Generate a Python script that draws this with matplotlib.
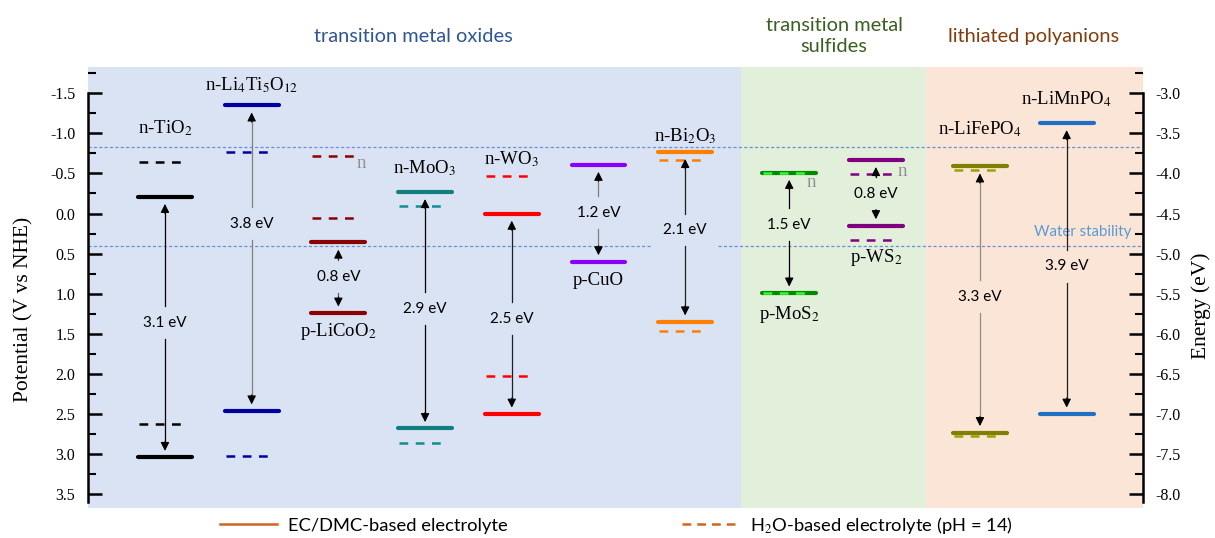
import matplotlib
matplotlib.use('Agg')
import matplotlib.pyplot as plt
import numpy as np
from matplotlib.lines import Line2D
from matplotlib.ticker import AutoMinorLocator

# materials, left to right
names = ['n-TiO$_2$', 'n-Li$_4$Ti$_5$O$_{12}$', 'p-LiCoO$_2$', 'n-MoO$_3$', 'n-WO$_3$',
         'p-CuO', 'n-Bi$_2$O$_3$', 'p-MoS$_2$', 'p-WS$_2$', 'n-LiFePO$_4$', 'n-LiMnPO$_4$']
xpos = [0, 1, 2, 3, 4, 5, 6, 7.2, 8.2, 9.4, 10.4]

# band edges (V vs NHE), organic electrolyte (solid) and aqueous pH 14 (dashed)
cb_org = [-0.21, -1.35, 0.36, -0.27, 0.00, -0.61, -0.77, -0.51, -0.67, -0.59, -1.13]
vb_org = [3.04, 2.46, 1.24, 2.68, 2.50, 0.60, 1.35, 0.99, 0.15, 2.73, 2.50]
cb_aq = [-0.64, -0.77, -0.72, -0.09, -0.47, np.nan, -0.67, -0.51, -0.49, -0.54, np.nan]
vb_aq = [2.62, 3.02, 0.06, 2.86, 2.03, np.nan, 1.46, 0.99, 0.33, 2.77, np.nan]
gap_text = ['3.1 eV', '3.8 eV', '0.8 eV', '2.9 eV', '2.5 eV', '1.2 eV',
            '2.1 eV', '1.5 eV', '0.8 eV', '3.3 eV', '3.9 eV']
water_levels = [-0.83, 0.40]

# layout / style
gap_y = [1.36, 0.13, 0.79, 1.19, 1.31, -0.01, 0.21, 0.14, -0.24, 1.04, 0.66]
name_y = [-1.07, -1.60, 1.47, -0.57, -0.68, 0.83, -0.97, 1.26, 0.55, -1.05, -1.43]
colors = ['#000000', '#0000A0', '#8B0000', '#0F7F7F', '#FF0000', '#8A00FF',
          '#FF8000', '#008A00', '#800080', '#808000', '#1F6FC5']
dash_colors = ['#000000', '#0000A0', '#8B0000', '#0F8F8F', '#FF0000', '#8A00FF',
               '#FF8000', '#33FF33', '#800080', '#A0A000', '#1F6FC5']
arrow_colors = ['#000000', '#808080', '#606060', '#000000', '#202020', '#808080',
                '#202020', '#000000', '#000000', '#948A84', '#202020']
n_marks = [(2, 0.27, 0.09), (7, 0.25, 0.12), (8, 0.30, -0.03)]
regions = [(-0.888, 6.644, '#DAE3F3'), (6.644, 8.777, '#E2EFDA'), (8.777, 11.28, '#FBE5D6')]

plt.rcParams['font.family'] = 'Liberation Serif'
plt.rcParams['mathtext.fontset'] = 'stix'
sans = 'Lato'

fig = plt.figure(figsize=(12.15, 5.38), dpi=100)
ax = fig.add_axes([0.0724, 0.0558, 0.8683, 0.8204])
ax.set_xlim(-0.888, 11.28)
ax.set_ylim(3.671, -1.832)
ax.patch.set_visible(False)

for x0, x1, c in regions:
    ax.axvspan(x0, x1, color=c, zorder=0, lw=0)

wl_style = dict(color='#6A8FD8', lw=0.9, ls=(0, (2.5, 1.8)), zorder=1)
ax.axhline(water_levels[0], **wl_style)
ax.hlines(water_levels[1], -0.888, 5.62, **wl_style)
ax.hlines(water_levels[1], 6.38, 11.28, **wl_style)
ax.text(10.58, water_levels[1] - 0.17, 'Water stability', color='#5B9BD5',
        family=sans, fontsize=10.8, ha='center', va='center', zorder=2)


def arrow(x, start, tip, lc):
    # thin line in its own colour, black filled head
    sgn = 1 if tip > start else -1
    ax.plot([x, x], [start, tip - sgn * 0.05], color=lc, lw=0.9, zorder=5)
    ax.annotate('', xy=(x, tip), xytext=(x, tip - sgn * 0.12),
                arrowprops=dict(arrowstyle='-|>', lw=0.8, mutation_scale=13,
                                shrinkA=0, shrinkB=0, color='black'), zorder=6)


for i, x in enumerate(xpos):
    c = colors[i]
    for lev in (cb_org[i], vb_org[i]):
        ax.plot([x - 0.31, x + 0.31], [lev, lev], color=c, lw=3,
                solid_capstyle='round', zorder=3)
    for lev in (cb_aq[i], vb_aq[i]):
        if not np.isnan(lev):
            ax.plot([x - 0.30, x + 0.22], [lev, lev], color=dash_colors[i], lw=1.8,
                    ls=(0, (3.5, 3)), zorder=4)
    ly = gap_y[i]
    ax.text(x, ly, gap_text[i], family=sans, fontsize=11, ha='center',
            va='center', zorder=5)
    arrow(x, ly - 0.21, cb_org[i] + 0.09, arrow_colors[i])
    arrow(x, ly + 0.20, vb_org[i] - 0.08, arrow_colors[i])
    ax.text(x, name_y[i], names[i], fontsize=13.5, ha='center', va='center', zorder=5)

for i, dx, dy in n_marks:
    ax.text(xpos[i] + dx, cb_aq[i] + dy, 'n', color='#909090', fontsize=13.5,
            ha='center', va='center', zorder=5)

# axes styling
for s in ('top', 'bottom', 'right'):
    ax.spines[s].set_visible(False)
ax.spines['left'].set_bounds(-1.5, 3.6)
ax.spines['left'].set_linewidth(1.8)
ax.set_xticks([])
ax.set_yticks(np.arange(-1.5, 3.51, 0.5))
ax.set_yticklabels(['%.1f' % v for v in np.arange(-1.5, 3.51, 0.5)])
ax.yaxis.set_minor_locator(AutoMinorLocator(2))
ax.tick_params(axis='y', which='major', direction='in', length=10, width=1.8,
               labelsize=11.5, pad=9)
ax.tick_params(axis='y', which='minor', direction='in', length=6, width=1.5)
ax.set_ylabel('Potential (V vs NHE)', fontsize=15.5)
ax.yaxis.set_label_coords(-0.052, 0.449)

ax2 = ax.twinx()
ax2.set_ylim(-4.5 - 3.671, -4.5 + 1.832)
for s in ('top', 'bottom', 'left'):
    ax2.spines[s].set_visible(False)
ax2.spines['right'].set_bounds(-8.1, -3.0)
ax2.spines['right'].set_linewidth(1.8)
ax2.set_yticks(np.arange(-8.0, -2.99, 0.5))
ax2.set_yticklabels(['%.1f' % v for v in np.arange(-8.0, -2.99, 0.5)])
ax2.yaxis.set_minor_locator(AutoMinorLocator(2))
ax2.tick_params(axis='y', which='major', direction='in', length=10, width=1.8,
                labelsize=11.5, pad=9)
ax2.tick_params(axis='y', which='minor', direction='in', length=6, width=1.5)
ax2.set_ylabel('Energy (eV)', fontsize=15.5)
ax2.yaxis.set_label_coords(1.046, 0.458)

# group headers
fig.text(413 / 1215, 1 - 36 / 538, 'transition metal oxides', family=sans,
         fontsize=14.4, color='#2F5597', ha='center', va='center')
fig.text(834 / 1215, 1 - 36 / 538, 'transition metal\nsulfides', family=sans,
         fontsize=14.4, color='#3B5E22', ha='center', va='center', linespacing=1.25)
fig.text(1034 / 1215, 1 - 37 / 538, 'lithiated polyanions', family=sans,
         fontsize=14.4, color='#843C0C', ha='center', va='center')

handles = [Line2D([], [], color='#D0661E', lw=1.8),
           Line2D([], [], color='#D0661E', lw=1.8, ls=(0, (3.5, 2.4)))]
fig.legend(handles, ['EC/DMC-based electrolyte', 'H$_2$O-based electrolyte (pH = 14)'],
           loc='center left', bbox_to_anchor=(220 / 1215, 1 - 525 / 538), ncol=2,
           frameon=False, prop={'family': sans, 'size': 13.2}, handlelength=3.1,
           handletextpad=0.6, columnspacing=9.5, borderpad=0, borderaxespad=0)

fig.savefig('out.png', dpi=100)
